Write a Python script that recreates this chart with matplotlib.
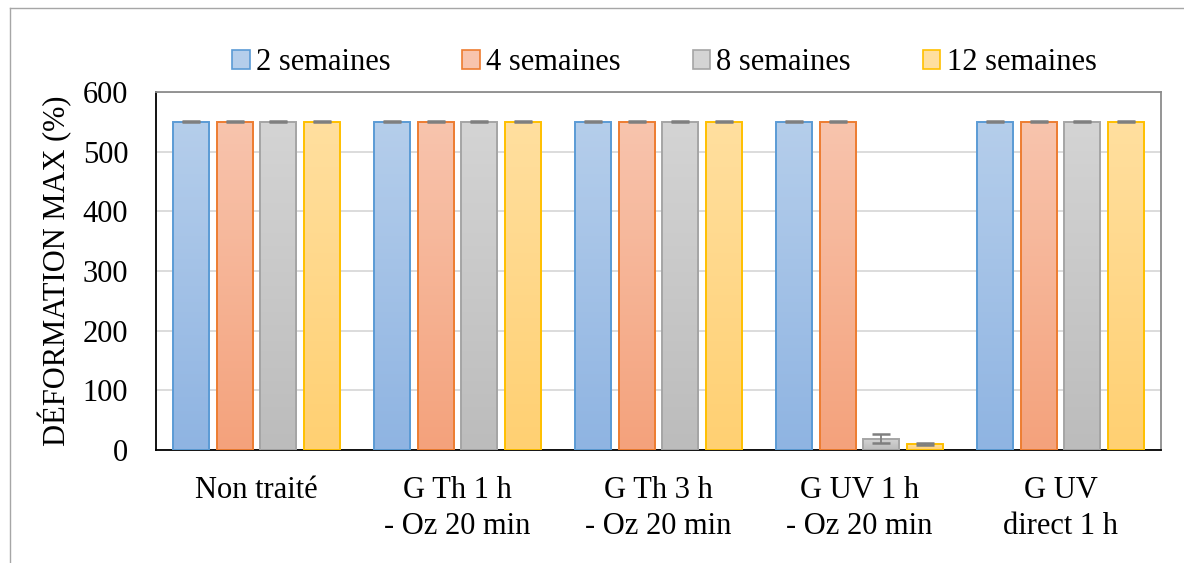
import numpy as np
import matplotlib.pyplot as plt
from matplotlib.colors import LinearSegmentedColormap
from matplotlib.lines import Line2D

plt.rcParams['font.family'] = ['Liberation Serif', 'DejaVu Serif']

groups = ["Non traité", "G Th 1 h\n- Oz 20 min", "G Th 3 h\n- Oz 20 min",
          "G UV 1 h\n- Oz 20 min", "G UV\ndirect 1 h"]
series = ["2 semaines", "4 semaines", "8 semaines", "12 semaines"]
values = {
    "2 semaines": [550, 550, 550, 550, 550],
    "4 semaines": [550, 550, 550, 550, 550],
    "8 semaines": [550, 550, 550, 19, 550],
    "12 semaines": [550, 550, 550, 10, 550],
}
errors = {
    "2 semaines": [1, 1, 1, 1, 1],
    "4 semaines": [1, 1, 1, 1, 1],
    "8 semaines": [1, 1, 1, 7, 1],
    "12 semaines": [1, 1, 1, 2, 1],
}

# edge colour, gradient top, gradient bottom
styles = {
    "2 semaines": ("#5B9BD5", "#B5CEEB", "#8FB4E2"),
    "4 semaines": ("#ED7D31", "#F8C4AD", "#F4A27C"),
    "8 semaines": ("#A5A5A5", "#D4D4D4", "#BCBCBC"),
    "12 semaines": ("#FFC000", "#FFDF9F", "#FFD072"),
}

fig = plt.figure(figsize=(11.84, 5.63), dpi=100)
ax = fig.add_axes([0.1318, 0.2007, 0.8488, 0.6359])

x = np.arange(len(groups))
width = 0.18
step = 0.2175
fs = 22

handles = []
for i, s in enumerate(series):
    edge, top, bottom = styles[s]
    pos = x + (i - 1.5) * step
    bars = ax.bar(pos, values[s], width, facecolor="none", edgecolor=edge,
                  linewidth=1.4, zorder=3)
    cmap = LinearSegmentedColormap.from_list(s, [bottom, top])
    for b in bars:
        x0 = b.get_x()
        h = b.get_height()
        img = ax.imshow(np.linspace(0, 1, 100).reshape(-1, 1), cmap=cmap,
                        extent=(x0, x0 + width, 0, h), origin="lower",
                        aspect="auto", zorder=2)
        img.set_clip_path(b)
    ax.errorbar(pos, values[s], yerr=errors[s], fmt="none", ecolor="#7F7F7F",
                elinewidth=1.3, capsize=6.5, capthick=1.8, zorder=4)
    handles.append(plt.Rectangle((0, 0), 1, 1, facecolor=top, edgecolor=edge,
                                 linewidth=1.2))

ax.set_xlim(-0.5, len(groups) - 0.5)
ax.set_ylim(0, 600)
ax.set_yticks(np.arange(0, 601, 100))
ax.set_xticks(x)
ax.set_xticklabels(groups, linespacing=1.3)
ax.tick_params(axis="both", length=0, labelsize=fs)
ax.tick_params(axis="y", pad=20)
ax.tick_params(axis="x", pad=19)
ax.yaxis.grid(True, color="#D9D9D9", linewidth=1.3, zorder=0)
ax.set_axisbelow(True)

ax.spines["left"].set_color("black")
ax.spines["bottom"].set_color("black")
ax.spines["top"].set_color("#8C8C8C")
ax.spines["right"].set_color("#8C8C8C")
for sp in ax.spines.values():
    sp.set_linewidth(1.3)

ax.set_ylabel("DÉFORMATION MAX (%)", fontsize=fs)
ax.yaxis.set_label_coords(-0.083, 0.5)

fig.legend(handles, series, loc="center", bbox_to_anchor=(0.561, 0.889),
           ncol=4, frameon=False, fontsize=fs, handlelength=0.58,
           handleheight=0.58, handletextpad=0.2, columnspacing=2.35)

# outer chart frame
fig.add_artist(Line2D([10 / 1184, 10 / 1184], [0, 1 - 8 / 563],
                      transform=fig.transFigure, color="#A6A6A6", linewidth=1))
fig.add_artist(Line2D([10 / 1184, 1], [1 - 8 / 563, 1 - 8 / 563],
                      transform=fig.transFigure, color="#A6A6A6", linewidth=1))

fig.savefig("out.png", dpi=100)
